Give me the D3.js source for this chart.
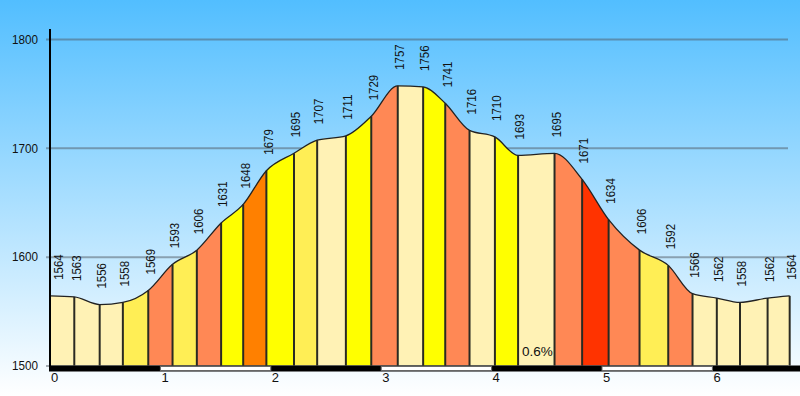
<!DOCTYPE html>
<html><head><meta charset="utf-8">
<script src="https://cdn.jsdelivr.net/npm/d3@7"></script>
<style>body{margin:0;}svg{display:block;}</style>
</head><body>
<svg id="c" width="800" height="396"></svg>
<script>
// distance along route (km) at each profile point
const distKm = [0, 0.22, 0.45, 0.66, 0.89, 1.11, 1.33, 1.55, 1.75, 1.96, 2.21, 2.42, 2.68, 2.91, 3.15, 3.38, 3.58, 3.80, 4.03, 4.24, 4.57, 4.82, 5.06, 5.34, 5.60, 5.82, 6.04, 6.25, 6.50, 6.70];
// elevation (m) at each point
const elevation = [1564, 1563, 1556, 1558, 1569, 1593, 1606, 1631, 1648, 1679, 1695, 1707, 1711, 1729, 1757, 1756, 1741, 1716, 1710, 1693, 1695, 1671, 1634, 1606, 1592, 1566, 1562, 1558, 1562, 1564];
const yTicks = [1500, 1600, 1700, 1800];
const xTicks = [0, 1, 2, 3, 4, 5, 6];
const slopeBreaks = [4, 6, 9, 12, 15];          // % gradient class limits
const slopeColors = ["#FFF2B5", "#FFEE55", "#FFFF00", "#FF8855", "#FF8000", "#FF3300"];

const W = 800, H = 396;
const FONT = "Liberation Sans, Arial, sans-serif";
const svg = d3.select("#c");
const x = d3.scaleLinear().domain([0, 6.7]).range([50, 50 + 6.7 * 110.4]);
const y = d3.scaleLinear().domain([1500, 1800]).range([365.5, 39]);
const color = d3.scaleThreshold().domain(slopeBreaks).range(slopeColors);
const pts = distKm.map((d, i) => ({d, e: elevation[i]}));

// background gradient
const defs = svg.append("defs");
const lg = defs.append("linearGradient").attr("id", "bg").attr("x1", 0).attr("y1", 0).attr("x2", 0).attr("y2", 1);
lg.append("stop").attr("offset", "0%").attr("stop-color", "#52BEFF");
lg.append("stop").attr("offset", "100%").attr("stop-color", "#FFFFFF");
svg.append("rect").attr("width", W).attr("height", H).attr("fill", "url(#bg)");

// y axis with gridlines
const gy = svg.append("g").attr("transform", "translate(46,0)")
  .call(d3.axisLeft(y).tickValues(yTicks).tickSize(-742).tickPadding(8).tickFormat(d3.format("d")));
gy.select(".domain").remove();
gy.selectAll(".tick line").attr("stroke", "rgba(80,90,100,0.5)").attr("stroke-width", 2);
gy.selectAll(".tick text").attr("font-family", FONT).attr("font-size", 13).attr("fill", "#111")
  .attr("textLength", 26).attr("lengthAdjust", "spacingAndGlyphs");

// area shape
const area = d3.area().x(p => x(p.d)).y0(y(1500)).y1(p => y(p.e)).curve(d3.curveMonotoneX);
const line = d3.line().x(p => x(p.d)).y(p => y(p.e)).curve(d3.curveMonotoneX);
defs.append("clipPath").attr("id", "ac").append("path").attr("d", area(pts));

const segs = d3.pairs(pts).map(([a, b]) => {
  const g = (b.e - a.e) / ((b.d - a.d) * 1000) * 100;
  return {a, b, g};
});
const sg = svg.append("g").attr("clip-path", "url(#ac)");
sg.selectAll("rect").data(segs).join("rect")
  .attr("x", s => x(s.a.d)).attr("width", s => x(s.b.d) - x(s.a.d))
  .attr("y", y(1800)).attr("height", y(1500) - y(1800))
  .attr("fill", s => color(Math.abs(s.g)));

// vertical separators
svg.append("g").selectAll("line").data(pts).join("line")
  .attr("x1", p => x(p.d)).attr("x2", p => x(p.d))
  .attr("y1", y(1500)).attr("y2", p => y(p.e))
  .attr("stroke", "#2a2a22").attr("stroke-width", 2);

// profile outline
svg.append("path").attr("d", line(pts)).attr("fill", "none").attr("stroke", "#222").attr("stroke-width", 1.3);

// bottom distance bar
svg.append("rect").attr("x", 49).attr("y", 365.5).attr("width", W - 49).attr("height", 6).attr("fill", "#000");
svg.append("g").selectAll("rect").data(xTicks.filter(k => k % 2 === 1)).join("rect")
  .attr("x", k => x(k)).attr("y", 366.5).attr("width", k => x(k + 1) - x(k)).attr("height", 4)
  .attr("fill", "#fff").attr("stroke", "#666").attr("stroke-width", 1);

// y axis line
svg.append("line").attr("x1", 50).attr("x2", 50).attr("y1", 29).attr("y2", 366).attr("stroke", "#000").attr("stroke-width", 2);

// x axis labels
const gx = svg.append("g").attr("transform", "translate(0,372)")
  .call(d3.axisBottom(x).tickValues(xTicks).tickSize(0).tickFormat(d3.format("d")));
gx.select(".domain").remove();
gx.selectAll(".tick text").attr("text-anchor", "start").attr("x", 0.5).attr("y", 9.5).attr("dy", 0)
  .attr("font-family", FONT).attr("font-size", 13).attr("fill", "#111");

// elevation labels
svg.append("g").selectAll("text").data(pts).join("text")
  .attr("transform", p => `translate(${Math.max(x(p.d) + 1.5, 58) + 4.8},${y(p.e) - 16}) rotate(-90)`)
  .attr("font-family", FONT).attr("font-size", 13.3).attr("fill", "#111")
  .attr("textLength", 25.5).attr("lengthAdjust", "spacingAndGlyphs")
  .text(p => p.e);

// gradient labels for wide segments
svg.append("g").selectAll("text").data(segs.filter(s => x(s.b.d) - x(s.a.d) >= 34)).join("text")
  .attr("x", s => x(s.a.d) + 4).attr("y", y(1500) - 9.5)
  .attr("font-family", FONT).attr("font-size", 13.5).attr("fill", "#111")
  .text(s => Math.abs(s.g).toFixed(1) + "%");
</script>
</body></html>
